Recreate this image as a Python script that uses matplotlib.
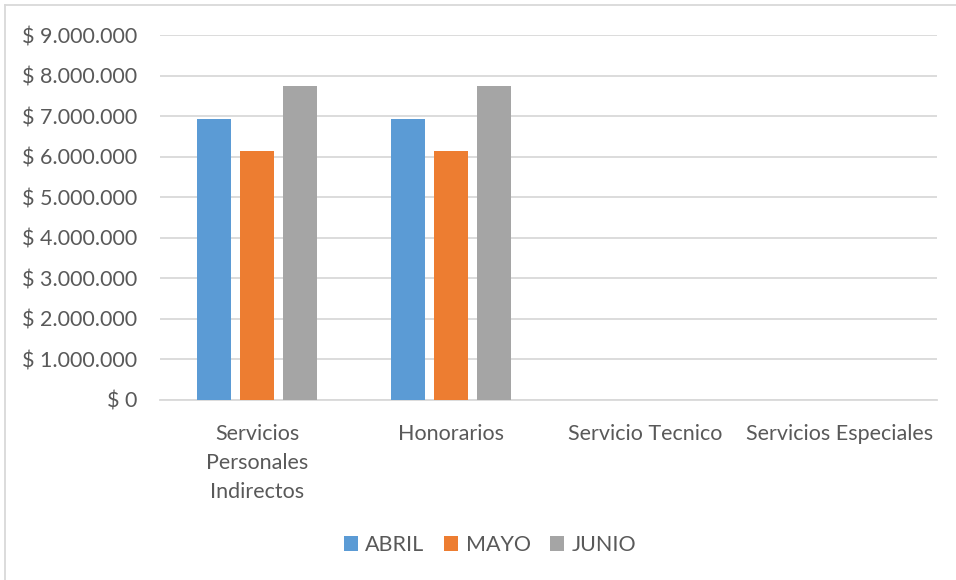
import matplotlib
matplotlib.use("Agg")
import matplotlib.pyplot as plt
from matplotlib.lines import Line2D
from matplotlib.ticker import FuncFormatter
import numpy as np

categories = ["Servicios\nPersonales\nIndirectos", "Honorarios", "Servicio Tecnico", "Servicios Especiales"]
series_names = ["ABRIL", "MAYO", "JUNIO"]
abril = [6930000, 6930000, 0, 0]
mayo = [6150000, 6150000, 0, 0]
junio = [7740000, 7740000, 0, 0]
colors = ["#5B9BD5", "#ED7D31", "#A5A5A5"]
yticks = list(range(0, 9000001, 1000000))

plt.rcParams['font.family'] = ['Lato', 'DejaVu Sans']
txt = "#595959"
fs = 15.5

fig = plt.figure(figsize=(9.56, 5.8), dpi=100)
ax = fig.add_axes([160/956, 1-400/580, (937-160)/956, (400-35)/580])

x = np.arange(len(categories))
w = 0.175
step = 0.221
for i, (vals, c, name) in enumerate(zip([abril, mayo, junio], colors, series_names)):
    ax.bar(x + (i-1)*step, vals, width=w, color=c, label=name, zorder=3)

ax.set_xlim(-0.5, len(categories)-0.5)
ax.set_ylim(0, 9000000)
ax.set_yticks(yticks)
def fmt(v, p):
    if v == 0:
        return "$ 0"
    return "$ " + f"{int(v):,}".replace(",", ".")
ax.yaxis.set_major_formatter(FuncFormatter(fmt))
ax.grid(axis='y', color="#D9D9D9", linewidth=1.3, zorder=0)
for s in ["top", "right", "left"]:
    ax.spines[s].set_visible(False)
ax.spines["bottom"].set_color("#D9D9D9")
ax.spines["bottom"].set_linewidth(1.3)
ax.tick_params(axis='y', length=0, pad=16.5, labelsize=fs, labelcolor=txt)
ax.tick_params(axis='x', length=0, pad=17, labelsize=fs, labelcolor=txt)
ax.set_xticks(x)
ax.set_xticklabels(categories, linespacing=1.57)

fig.legend(loc="center", bbox_to_anchor=(490/956, 1-545/580), ncol=3, frameon=False,
           fontsize=fs, labelcolor=txt, handlelength=0.65, handleheight=0.65,
           handletextpad=0.35, columnspacing=0.9)

fig.add_artist(Line2D([5/956, 5/956], [0, 1-5/580], color="#D9D9D9", linewidth=1.3, transform=fig.transFigure))
fig.add_artist(Line2D([5/956, 1], [1-5/580, 1-5/580], color="#D9D9D9", linewidth=1.3, transform=fig.transFigure))

fig.savefig("out.png", dpi=100)
